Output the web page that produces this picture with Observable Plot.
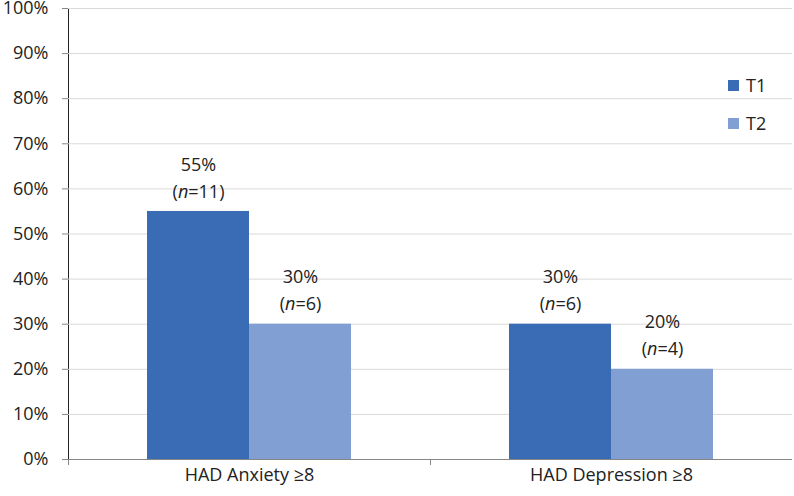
<!DOCTYPE html>
<html>
<head>
<meta charset="utf-8">
<script src="https://cdn.jsdelivr.net/npm/d3@7"></script>
<script src="https://cdn.jsdelivr.net/npm/@observablehq/plot@0.6"></script>
<style>
  body { margin: 0; background: #fff; }
  #wrap { position: relative; width: 794px; height: 496px; font-family: "Open Sans", sans-serif; color: #222; }
  #wrap svg [aria-label^="y-axis"] path, #wrap svg [aria-label^="y-axis"] line { stroke: #868686; }
  .legend { position: absolute; left: 728px; font-size: 18px; line-height: 18px; display: flex; align-items: center; }
  .legend .sw { width: 11px; height: 11px; margin-right: 7px; }
</style>
</head>
<body>
<div id="wrap"></div>
<script>
const categories = ["HAD Anxiety \u22658", "HAD Depression \u22658"];
const series = ["T1", "T2"];
const t1Values = [0.55, 0.30];
const t2Values = [0.30, 0.20];
const t1Counts = [11, 6];
const t2Counts = [6, 4];
const yTicks = [0, 0.1, 0.2, 0.3, 0.4, 0.5, 0.6, 0.7, 0.8, 0.9, 1];
const seriesColors = ["#3a6bb5", "#829fd4"];

const data = [];
categories.forEach((c, i) => {
  data.push({category: c, series: "T1", value: t1Values[i], n: t1Counts[i]});
  data.push({category: c, series: "T2", value: t2Values[i], n: t2Counts[i]});
});

const chart = Plot.plot({
  width: 794,
  height: 496,
  marginLeft: 67,
  marginRight: 2,
  marginTop: 8,
  marginBottom: 37,
  style: {fontFamily: "Open Sans, sans-serif", fontSize: "18px", color: "#222", background: "#fff"},
  fx: {domain: categories, padding: 0, label: null, axis: "bottom", tickSize: 0, tickPadding: 9},
  x: {domain: series, paddingInner: 0, paddingOuter: 0.76, axis: null},
  y: {domain: [0, 1], ticks: yTicks, tickFormat: d3.format(".0%"), label: null, tickSize: 6, tickPadding: 14, line: true},
  color: {domain: series, range: seriesColors},
  marks: [
    Plot.ruleY(yTicks.filter(d => d > 0), {stroke: "#d9d9d9", strokeWidth: 1}),
    Plot.barY(data, {fx: "category", x: "series", y: "value", fill: "series"}),
    Plot.rect([0], {y1: 0, y2: 0, insetBottom: -6, fill: "#868686"}),
    Plot.rect([0], {y1: 0, y2: 0, insetTop: 1, insetLeft: 1, insetBottom: -8, fill: "#fff"}),
    Plot.text(data, {
      fx: "category", x: "series", y: "value",
      text: d => `${Math.round(d.value * 100)}%\n(n=${d.n})`,
      lineAnchor: "middle", lineHeight: 1.5, dy: -36, fill: "#222", fontSize: 18
    })
  ]
});

// italicize the "n" in "(n=..)"
chart.querySelectorAll('[aria-label="text"] tspan').forEach(ts => {
  const m = /^\(n=(\d+)\)$/.exec(ts.textContent);
  if (!m) return;
  ts.textContent = "(";
  const it = document.createElementNS("http://www.w3.org/2000/svg", "tspan");
  it.setAttribute("font-style", "italic");
  it.textContent = "n";
  ts.appendChild(it);
  ts.appendChild(document.createTextNode(`=${m[1]})`));
});

const wrap = document.getElementById("wrap");
wrap.appendChild(chart);

const legendTops = [76, 114];
series.forEach((s, i) => {
  const item = document.createElement("div");
  item.className = "legend";
  item.style.top = legendTops[i] + "px";
  item.innerHTML = `<span class="sw" style="background:${seriesColors[i]}"></span><span>${s}</span>`;
  wrap.appendChild(item);
});
</script>
</body>
</html>
